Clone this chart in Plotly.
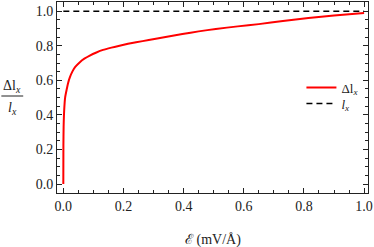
import plotly.graph_objects as go

# Data
field = [0.0, 0.0003, 0.001, 0.003, 0.006, 0.011, 0.016, 0.022, 0.03, 0.039,
         0.055, 0.07, 0.088, 0.11, 0.132, 0.16, 0.187, 0.215, 0.242, 0.284,
         0.34, 0.396, 0.45, 0.507, 0.58, 0.65, 0.73, 0.815, 0.9, 1.0]
ratio = [0.0, 0.22, 0.33, 0.43, 0.50, 0.545, 0.585, 0.618, 0.65, 0.676,
         0.705, 0.725, 0.743, 0.761, 0.776, 0.789, 0.80, 0.811, 0.82, 0.833,
         0.851, 0.868, 0.883, 0.897, 0.912, 0.925, 0.943, 0.960, 0.975, 0.99]
ref_x = [0.0, 1.0]
ref_y = [1.0, 1.0]

W, H = 374, 247
ML, MR, MT, MB = 57, 4, 1, 54
PW, PH = W - ML - MR, H - MT - MB

font_family = "Liberation Serif"
ink = "#222"

fig = go.Figure()
fig.add_trace(go.Scatter(x=field, y=ratio, mode="lines",
                         line=dict(color="#ff0000", width=2, shape="spline", smoothing=0.6),
                         name="Δl<sub><i>x</i></sub>", legend="legend"))
fig.add_trace(go.Scatter(x=ref_x, y=ref_y, mode="lines",
                         line=dict(color="black", width=1.5, dash="6px,4px"),
                         name="<i>l<sub>x</sub></i>", legend="legend2"))

axis_common = dict(showline=True, linecolor=ink, linewidth=1, mirror="ticks",
                   ticks="inside", ticklen=5, tickcolor=ink, showgrid=False,
                   zeroline=False, tickformat=".1f", ticklabeloverflow="allow",
                   tickfont=dict(family=font_family, size=14, color=ink),
                   minor=dict(ticks="inside", ticklen=3, tickcolor=ink, dtick=0.05, showgrid=False))

fig.update_xaxes(range=[-0.021, 1.013], tick0=0, dtick=0.2, **axis_common)
fig.update_yaxes(range=[-0.052, 1.053], tick0=0, dtick=0.2, **axis_common)

def px_to_paper_x(px):
    return (px - ML) / PW

def py_to_paper_y(py):
    return (H - MB - py) / PH

annotations = [
    dict(text="Δl<sub><i>x</i></sub>", x=px_to_paper_x(12), y=py_to_paper_y(86),
         xref="paper", yref="paper", showarrow=False, xanchor="center", yanchor="middle",
         font=dict(family=font_family, size=14, color=ink)),
    dict(text="<i>l<sub>x</sub></i>", x=px_to_paper_x(12), y=py_to_paper_y(108),
         xref="paper", yref="paper", showarrow=False, xanchor="center", yanchor="middle",
         font=dict(family=font_family, size=14, color=ink)),
    dict(text="ℰ (mV/Å)", x=0.5, y=py_to_paper_y(240),
         xref="paper", yref="paper", showarrow=False, xanchor="center", yanchor="middle",
         font=dict(family=font_family, size=14, color=ink)),
]

shapes = [
    dict(type="line", xref="paper", yref="paper",
         x0=px_to_paper_x(1), x1=px_to_paper_x(23),
         y0=py_to_paper_y(95.5), y1=py_to_paper_y(95.5),
         line=dict(color=ink, width=1)),
]

legend_common = dict(xanchor="left", yanchor="top", bgcolor="rgba(0,0,0,0)",
                     font=dict(family=font_family, size=13, color=ink), itemwidth=30)

fig.update_layout(
    width=W, height=H,
    margin=dict(l=ML, r=MR, t=MT, b=MB),
    plot_bgcolor="white", paper_bgcolor="white",
    font=dict(family=font_family, size=14, color=ink),
    annotations=annotations, shapes=shapes,
    showlegend=True,
    legend=dict(x=px_to_paper_x(303), y=py_to_paper_y(72), **legend_common),
    legend2=dict(x=px_to_paper_x(303), y=py_to_paper_y(88), **legend_common),
)

fig.write_html("out.html", config={"displayModeBar": False},
               post_script="document.body.style.margin='0';document.body.style.padding='0';")
